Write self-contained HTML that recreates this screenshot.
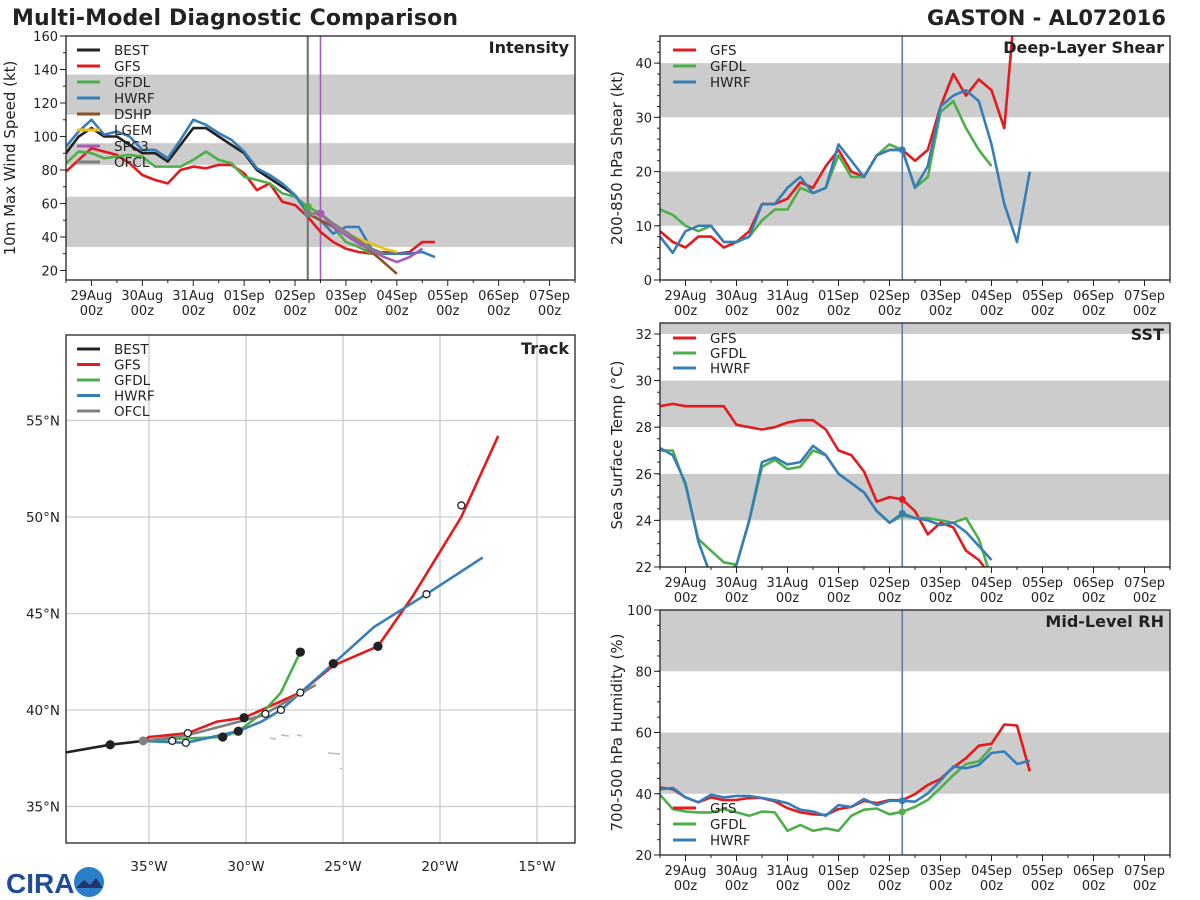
<!DOCTYPE html>
<html><head><meta charset="utf-8"><title>Multi-Model Diagnostic Comparison</title>
<style>
html,body{margin:0;padding:0;background:#fff;}
svg{display:block;font-family:"DejaVu Sans","Liberation Sans",sans-serif;}
</style></head>
<body>
<svg id="c" width="1200" height="900" viewBox="0 0 1200 900" xmlns="http://www.w3.org/2000/svg">
<text x="12" y="25" font-size="22" font-weight="bold" fill="#222" textLength="446">Multi-Model Diagnostic Comparison</text>
<text x="1166" y="25" font-size="21" font-weight="bold" fill="#222" text-anchor="end">GASTON - AL072016</text>
<g>
<text x="6" y="893" font-size="28" font-weight="bold" fill="#1f4b99" font-family="Liberation Sans, sans-serif">CIRA</text>
<circle cx="89" cy="882" r="15" fill="#2a7fc9"/>
<path d="M76 888 L84 880 L90 885 L96 878 L103 888 Z" fill="#23336b"/>
</g>
</svg>
<script>
// ---------- DATA ----------
const dayLabels = ["29Aug","30Aug","31Aug","01Sep","02Sep","03Sep","04Sep","05Sep","06Sep","07Sep"];
const intTicks = [20,40,60,80,100,120,140,160];
const shearTicks = [0,10,20,30,40];
const sstTicks = [22,24,26,28,30,32];
const rhTicks = [20,40,60,80,100];

// intensity (kt), 6-hourly from 28Aug12z (index 0)
const bestInt = [90,100,105,100,100,95,90,90,85,95,105,105,100,95,90,80,75,70,65,54];
const gfsInt  = [79,86,93,91,89,84,77,74,72,80,82,81,83,83,78,68,72,61,59,52,43,37,33,31,30,31,30,31,37,37];
const gfdlInt = [84,91,90,87,88,89,88,82,82,82,86,91,86,84,76,74,72,66,64,58,54,46,37,34,30,30];
const hwrfInt = [94,103,110,101,103,100,92,92,87,98,110,107,102,98,91,81,77,72,65,54,50,42,46,46,33,30,30,30,31,28];
const dshpT = [19,21,23,24.5,26];
const dshpInt = [54,46,37,28,18];
const lgemT = [19,20,21,22,23,24,25,26];
const lgemInt = [54,53,48,42,39,36,33,31];
const spc3T = [20,21,22,23,24,25,26,27,28];
const spc3Int = [54,46,41,36,32,28,25,28,33];
const ofclT = [19,20,21,22,23,24,25];
const ofclInt = [54,54,48,43,38,33,30];

// shear (kt)
const gfsShear  = [9,7,6,8,8,6,7,9,14,14,15,18,17,21,24,20,19,23,24,24,22,24,32,38,34,37,35,28,55];
const gfdlShear = [13,12,10,9,10,7,7,8,11,13,13,17,16,17,23,19,19,23,25,24,17,19,31,33,28,24,21];
const hwrfShear = [8,5,9,10,10,7,7,8,14,14,17,19,16,17,25,22,19,23,24,24,17,21,32,34,35,33,25,14,7,20];

// SST (C)
const gfsSst  = [28.9,29.0,28.9,28.9,28.9,28.9,28.1,28.0,27.9,28.0,28.2,28.3,28.3,27.9,27.0,26.8,26.1,24.8,25.0,24.9,24.4,23.4,23.9,23.7,22.7,22.3,21.6];
const gfdlSst = [27.0,27.0,25.5,23.2,22.7,22.2,22.1,24.0,26.3,26.6,26.2,26.3,27.0,26.8,26.0,25.6,25.2,24.4,23.9,24.2,24.1,24.1,24.0,23.9,24.1,23.2,21.5];
const hwrfSst = [27.1,26.8,25.6,23.1,21.6,21.5,22.1,24.0,26.5,26.7,26.4,26.5,27.2,26.8,26.0,25.6,25.2,24.4,23.9,24.3,24.1,24.0,23.8,23.9,23.5,22.9,22.3];

// RH (%)
const gfsRh  = [42,41.5,38.8,37.2,38.8,37.9,38,38.6,38.6,37.5,35.3,33.9,33.3,33.1,35,35.7,37.7,36.9,37.9,37.9,39.9,42.9,44.8,48.6,51.6,55.7,56.3,62.6,62.3,47.3];
const gfdlRh = [39.7,35,34.2,33.9,33.9,35,33.9,32.8,34.2,33.9,27.9,29.8,27.9,28.7,27.9,32.8,34.8,35.2,33.3,34.1,35.7,38,41.9,46.1,49.7,50.6,55.2];
const hwrfRh = [41.5,41.9,38.8,37.2,39.7,38.8,39.3,39.3,38.6,37.9,36.9,34.8,34.2,32.8,36.3,35.7,38.3,36.3,37.7,37.7,37.4,40.1,44.3,48.9,48.3,49.4,53.3,53.8,49.7,50.8];

// track (degrees W, degrees N)
const trackLonTicks = [35,30,25,20,15];
const trackLatTicks = [35,40,45,50,55];
const bestLon = [39.3,37.0,35.3];
const bestLat = [37.8,38.2,38.4];
const gfsLon = [35.3,35.0,33.0,31.5,30.1,29.2,27.2,25.5,23.2,21.4,18.9,17.0];
const gfsLat = [38.4,38.6,38.8,39.4,39.6,40.0,40.9,42.3,43.3,45.9,50.0,54.2];
const gfdlLon = [35.3,33.8,31.2,30.4,29.2,28.2,27.2];
const gfdlLat = [38.4,38.5,38.6,38.9,39.8,40.9,43.0];
const hwrfLon = [35.3,33.1,30.4,29.2,28.2,25.5,23.4,20.7,17.8];
const hwrfLat = [38.4,38.3,38.9,39.4,40.0,42.4,44.3,46.0,47.9];
const ofclLon = [35.3,33.0,29.2,26.4];
const ofclLat = [38.4,38.7,39.7,41.3];
const gfsFilledLon = [30.1,23.2], gfsFilledLat=[39.6,43.3];
const gfsOpenLon = [33.0,27.2,18.9], gfsOpenLat=[38.8,40.9,50.6];
const hwrfFilledLon=[30.4,25.5], hwrfFilledLat=[38.9,42.4];
const hwrfOpenLon=[33.1,28.2,20.7], hwrfOpenLat=[38.3,40.0,46.0];
const gfdlFilledLon=[31.2,27.2], gfdlFilledLat=[38.6,43.0];
const ofclOpenLon=[33.8,29.0], ofclOpenLat=[38.4,39.8];

// ---------- DRAWING ----------
const NS="http://www.w3.org/2000/svg";
const svg=document.getElementById('c');
const C={black:"#222222",red:"#e41a1c",green:"#4daf4a",blue:"#377eb8",brown:"#8c5128",yellow:"#f0c010",purple:"#a65bb8",gray:"#808080",band:"#cccccc"};
function el(tag,attrs,parent){const e=document.createElementNS(NS,tag);for(const k in attrs)e.setAttribute(k,attrs[k]);(parent||svg).appendChild(e);return e;}
function txt(x,y,s,attrs,parent){const t=el('text',Object.assign({x:x,y:y,fill:"#222","font-size":13},attrs||{}),parent);t.textContent=s;return t;}

let clipN=0;
function makePanel(name,L,R,T,B,ymin,ymax){
  const g=el('g',{});
  
  
  const id='clip'+(clipN++);
  const cp=el('clipPath',{id:id},g);el('rect',{x:L,y:T,width:R-L,height:B-T},cp);
  const inner=el('g',{'clip-path':'url(#'+id+')'},g);
  return {g:g,inner:inner,L:L,R:R,T:T,B:B,
    y:v=>B-(v-ymin)*(B-T)/(ymax-ymin),
    x:t=>L+t*(R-L)/40};
}
function bands(p,list,name){
  list.forEach((b,i)=>{
    const r=el('rect',{x:p.L,y:p.y(b[1]),width:p.R-p.L,height:p.y(b[0])-p.y(b[1]),fill:C.band},p.inner);
    
    
  });
}
function line(p,ts,vs,color,name,w){
  const pts=vs.map((v,i)=>p.x(ts?ts[i]:i).toFixed(1)+','+p.y(v).toFixed(1)).join(' ');
  const l=el('polyline',{points:pts,fill:'none',stroke:color,'stroke-width':w||2.6,'stroke-linejoin':'round'},p.inner);
  
  
  return l;
}
function dot(p,t,v,color,name,r){
  const c=el('circle',{cx:p.x(t),cy:p.y(v),r:r||4,fill:color},p.inner);
  
  
}
function frame(p,name){
  const r=el('rect',{x:p.L,y:p.T,width:p.R-p.L,height:p.B-p.T,fill:'none',stroke:'#222','stroke-width':1.3},p.g);
  
  
}
function timeAxis(p,name){
  const ax=el('g',{},p.g);
  
  
  for(let h=0;h<=20;h++){
    const x=p.x(h*2);const major=h%2===1;
    el('line',{x1:x,x2:x,y1:p.B,y2:p.B+(major?6:3),stroke:'#222','stroke-width':1},ax);
  }
  dayLabels.forEach((d,i)=>{
    const x=p.x(2+4*i);
    const t1=txt(x,p.B+20,d,{'text-anchor':'middle'},ax);
    
    
    const t2=txt(x,p.B+35,'00z',{'text-anchor':'middle'},ax);
    
    
  });
}
function yAxis(p,ticks,minorStep,ymin,ymax,title,tx,name){
  const ax=el('g',{},p.g);
  
  
  for(let v=ymin;v<=ymax+1e-6;v+=minorStep){
    const y=p.y(v);el('line',{x1:p.L-3,x2:p.L,y1:y,y2:y,stroke:'#222'},ax);
  }
  ticks.forEach(v=>{
    const y=p.y(v);el('line',{x1:p.L-6,x2:p.L,y1:y,y2:y,stroke:'#222'},ax);
    const t=txt(p.L-8,y+5,String(v),{'text-anchor':'end'},ax);
    
    
  });
  const cy=(p.T+p.B)/2;
  const t=txt(tx,cy,title,{'text-anchor':'middle','font-size':15,transform:'rotate(-90 '+tx+' '+cy+')'},ax);
  
  
}
function panelTitle(p,s,name){
  const t=txt(p.R-6,p.T+17,s,{'text-anchor':'end','font-size':16,'font-weight':'bold'},p.g);
  
  
}
function legend(p,x,y0,dy,items,name){
  const lg=el('g',{},p.g);
  
  
  items.forEach((it,i)=>{
    const y=y0+i*dy;
    const e=el('g',{},lg);
    
    
    el('line',{x1:x,x2:x+23,y1:y,y2:y,stroke:it[1],'stroke-width':3},e);
    txt(x+37,y+5,it[0],{'font-size':13.5},e);
  });
}
function vline(p,t,color,name,w){
  const l=el('line',{x1:p.x(t),x2:p.x(t),y1:p.T,y2:p.B,stroke:color,'stroke-width':w||1.6},p.inner);
  
  
}

// ---- Intensity ----
const pI=makePanel('intensity',66,575,36,280,14.3,160);
bands(pI,[[34,64],[83,96],[113,137]],'intensity');
vline(pI,19,'#777','analysis-time-line',2.2);
vline(pI,20,C.purple,'spc3-start-line',1.6);
line(pI,null,bestInt,C.black,'best-intensity-line');
line(pI,null,gfsInt,C.red,'gfs-intensity-line');
line(pI,null,gfdlInt,C.green,'gfdl-intensity-line');
line(pI,null,hwrfInt,C.blue,'hwrf-intensity-line');
line(pI,dshpT,dshpInt,C.brown,'dshp-intensity-line');
line(pI,lgemT,lgemInt,C.yellow,'lgem-intensity-line');
line(pI,spc3T,spc3Int,C.purple,'spc3-intensity-line');
line(pI,ofclT,ofclInt,C.gray,'ofcl-intensity-line');
dot(pI,19,gfdlInt[19],C.green,'gfdl-intensity-start');
dot(pI,19,54,C.gray,'ofcl-intensity-start');
dot(pI,20,spc3Int[0],C.purple,'spc3-intensity-start');
frame(pI,'intensity');
yAxis(pI,intTicks,10,20,160,'10m Max Wind Speed (kt)',15,'intensity');
timeAxis(pI,'intensity');
panelTitle(pI,'Intensity','intensity');
legend(pI,77,50,16,[['BEST',C.black],['GFS',C.red],['GFDL',C.green],['HWRF',C.blue],['DSHP',C.brown],['LGEM',C.yellow],['SPC3',C.purple],['OFCL',C.gray]],'intensity');

// ---- Shear ----
const pS=makePanel('shear',660,1170,36,280,0,45);
bands(pS,[[10,20],[30,40]],'shear');
vline(pS,19,'#5b7fa6','analysis-time-line',1.6);
line(pS,null,gfsShear,C.red,'gfs-shear-line');
line(pS,null,gfdlShear,C.green,'gfdl-shear-line');
line(pS,null,hwrfShear,C.blue,'hwrf-shear-line');
dot(pS,19,hwrfShear[19],C.blue,'hwrf-shear-start',3.5);
frame(pS,'shear');
yAxis(pS,shearTicks,2,0,45,'200-850 hPa Shear (kt)',622,'shear');
timeAxis(pS,'shear');
panelTitle(pS,'Deep-Layer Shear','shear');
legend(pS,673,50,16,[['GFS',C.red],['GFDL',C.green],['HWRF',C.blue]],'shear');

// ---- SST ----
const pT=makePanel('sst',660,1170,323,567,22,32.47);
bands(pT,[[24,26],[28,30],[32,33]],'sst');
vline(pT,19,'#5b7fa6','analysis-time-line',1.6);
line(pT,null,gfsSst,C.red,'gfs-sst-line');
line(pT,null,gfdlSst,C.green,'gfdl-sst-line');
line(pT,null,hwrfSst,C.blue,'hwrf-sst-line');
dot(pT,19,gfsSst[19],C.red,'gfs-sst-start',3.5);
dot(pT,19,hwrfSst[19],C.blue,'hwrf-sst-start',3.5);
frame(pT,'sst');
yAxis(pT,sstTicks,0.5,22,32.4,'Sea Surface Temp (°C)',622,'sst');
timeAxis(pT,'sst');
panelTitle(pT,'SST','sst');
legend(pT,673,338,15,[['GFS',C.red],['GFDL',C.green],['HWRF',C.blue]],'sst');

// ---- RH ----
const pR=makePanel('rh',660,1170,610,855,20,100);
bands(pR,[[40,60],[80,100]],'rh');
vline(pR,19,'#5b7fa6','analysis-time-line',1.6);
line(pR,null,gfsRh,C.red,'gfs-rh-line');
line(pR,null,gfdlRh,C.green,'gfdl-rh-line');
line(pR,null,hwrfRh,C.blue,'hwrf-rh-line');
dot(pR,19,hwrfRh[19],C.blue,'hwrf-rh-start',3.5);
dot(pR,19,gfdlRh[19],C.green,'gfdl-rh-start',3.5);
frame(pR,'rh');
yAxis(pR,rhTicks,5,20,100,'700-500 hPa Humidity (%)',622,'rh');
timeAxis(pR,'rh');
panelTitle(pR,'Mid-Level RH','rh');
legend(pR,673,808,16,[['GFS',C.red],['GFDL',C.green],['HWRF',C.blue]],'rh');

// ---- Track ----
const TL=66,TR=575,TT=335,TB=843;
const lonX=w=>149+(35-w)*19.4;
const latY=la=>710-(la-40)*19.3;
const tg=el('g',{});


const tcp=el('clipPath',{id:'tclip'},tg);el('rect',{x:TL,y:TT,width:TR-TL,height:TB-TT},tcp);
const ti=el('g',{'clip-path':'url(#tclip)'},tg);
trackLonTicks.forEach(w=>{
  const gl=el('line',{x1:lonX(w),x2:lonX(w),y1:TT,y2:TB,stroke:'#cccccc','stroke-width':1.3},ti);
  
  
  const t=txt(lonX(w),TB+28,w+'°W',{'text-anchor':'middle','font-size':13.5},tg);
  
  
});
trackLatTicks.forEach(la=>{
  const gl=el('line',{x1:TL,x2:TR,y1:latY(la),y2:latY(la),stroke:'#cccccc','stroke-width':1.3},ti);
  
  
  const t=txt(TL-6,latY(la)+5,la+'°N',{'text-anchor':'end','font-size':13.5},tg);
  
  
});
[[270,738,6],[281,735,8],[297,735,5],[328,753,12],[340,768,2]].forEach(a=>{
  const s=el('line',{x1:a[0],x2:a[0]+a[2],y1:a[1],y2:a[1]+1,stroke:'#bbbbbb','stroke-width':1.5},ti);
  
  
});
function tline(lons,lats,color,name){
  const pts=lons.map((w,i)=>lonX(w).toFixed(1)+','+latY(lats[i]).toFixed(1)).join(' ');
  const l=el('polyline',{points:pts,fill:'none',stroke:color,'stroke-width':2.6,'stroke-linejoin':'round'},ti);
  
  
}
function tdots(lons,lats,filled,name){
  lons.forEach((w,i)=>{
    const c=el('circle',{cx:lonX(w),cy:latY(lats[i]),r:filled?4:3.5,fill:filled?'#222':'#fff',stroke:'#222','stroke-width':1.3},ti);
    
    
  });
}
tline(bestLon,bestLat,C.black,'best-track-line');
tline(gfsLon,gfsLat,C.red,'gfs-track-line');
tline(gfdlLon,gfdlLat,C.green,'gfdl-track-line');
tline(hwrfLon,hwrfLat,C.blue,'hwrf-track-line');
tline(ofclLon,ofclLat,C.gray,'ofcl-track-line');
tdots([bestLon[1]],[bestLat[1]],true,'best-track-point');
tdots(gfsFilledLon,gfsFilledLat,true,'gfs-track-point');
tdots(gfsOpenLon,gfsOpenLat,false,'gfs-track-point');
tdots(hwrfFilledLon,hwrfFilledLat,true,'hwrf-track-point');
tdots(hwrfOpenLon,hwrfOpenLat,false,'hwrf-track-point');
tdots(gfdlFilledLon,gfdlFilledLat,true,'gfdl-track-point');
tdots(ofclOpenLon,ofclOpenLat,false,'ofcl-track-point');
const sd=el('circle',{cx:lonX(bestLon[2]),cy:latY(bestLat[2]),r:4.5,fill:C.gray},ti);


const tf=el('rect',{x:TL,y:TT,width:TR-TL,height:TB-TT,fill:'none',stroke:'#222','stroke-width':1.3},tg);


const tt=txt(TR-6,TT+19,'Track',{'text-anchor':'end','font-size':16,'font-weight':'bold'},tg);


legend({g:tg},77,349,15.5,[['BEST',C.black],['GFS',C.red],['GFDL',C.green],['HWRF',C.blue],['OFCL',C.gray]],'track');
</script>
</body></html>
